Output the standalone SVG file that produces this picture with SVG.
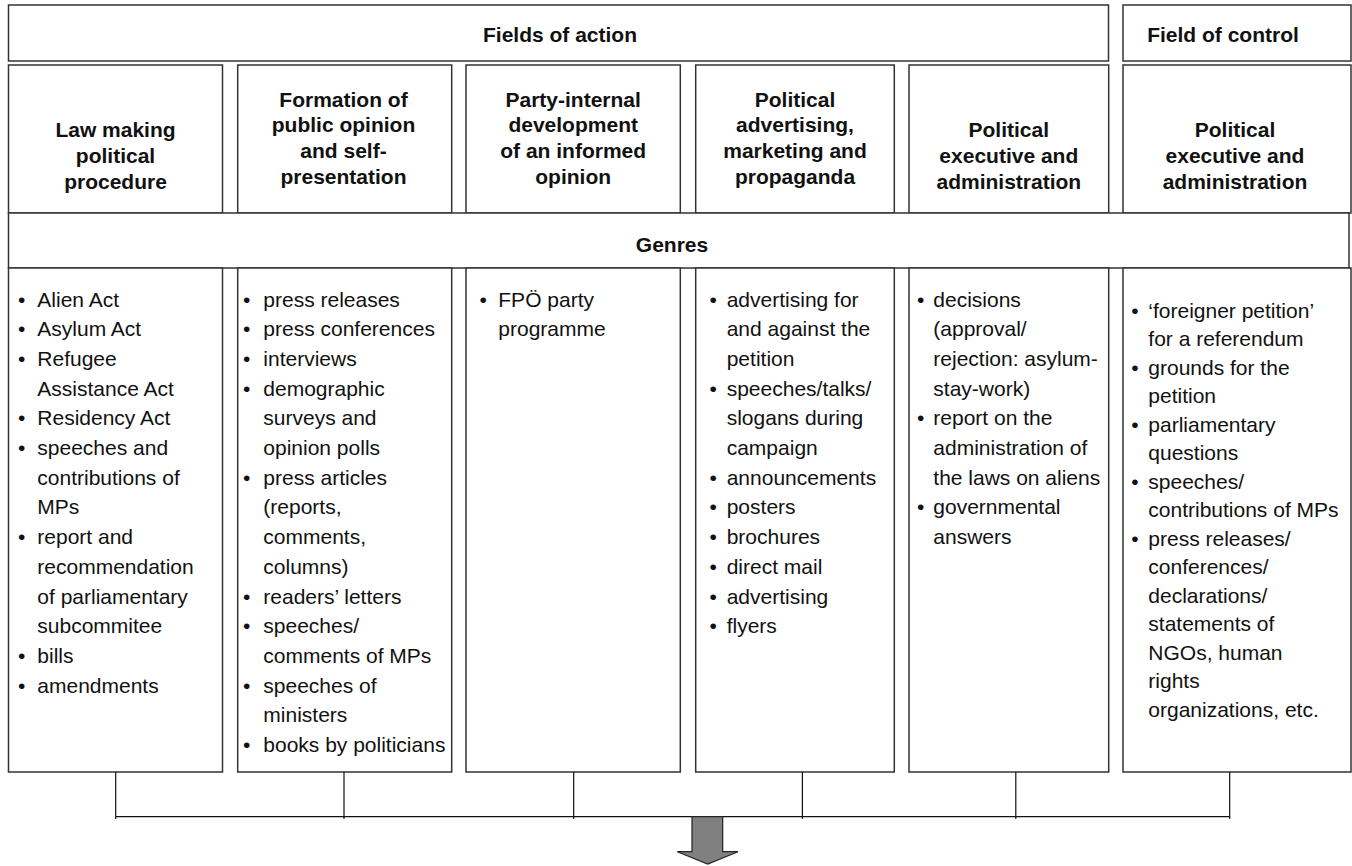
<svg xmlns="http://www.w3.org/2000/svg" width="1352" height="866" viewBox="0 0 1352 866">
  <style>
    .box { fill: #ffffff; stroke: #333333; stroke-width: 1.5; }
    .head { font-family: "Liberation Sans", Arial, sans-serif; font-size: 21px; font-weight: bold; fill: #111111; text-anchor: middle; }
    .item { font-family: "Liberation Sans", Arial, sans-serif; font-size: 21px; fill: #111111; }
    .conn { stroke: #111111; stroke-width: 1.2; fill: none; }
    .arrow { fill: #808080; stroke: #222222; stroke-width: 1.2; }
  </style>
  <rect width="1352" height="866" fill="#ffffff"/>

  <!-- top band -->
  <g id="fields-of-action">
    <rect class="box" x="8.5" y="5" width="1100" height="56"/>
    <text class="head" x="560" y="42.3">Fields of action</text>
  </g>
  <g id="field-of-control">
    <rect class="box" x="1123" y="5" width="228" height="56"/>
    <text class="head" x="1223" y="42.3">Field of control</text>
  </g>

  <!-- column headers -->
  <g id="h-law-making">
    <rect class="box" x="8.5" y="65" width="214" height="148"/>
    <text class="head" x="115.5" y="137.3">Law making</text>
    <text class="head" x="115.5" y="163.1">political</text>
    <text class="head" x="115.5" y="188.9">procedure</text>
  </g>
  <g id="h-public-opinion">
    <rect class="box" x="237.7" y="65" width="214" height="148"/>
    <text class="head" x="343.5" y="106.5">Formation of</text>
    <text class="head" x="343.5" y="132.3">public opinion</text>
    <text class="head" x="343.5" y="158.1">and self-</text>
    <text class="head" x="343.5" y="183.9">presentation</text>
  </g>
  <g id="h-party-internal">
    <rect class="box" x="466" y="65" width="214.3" height="148"/>
    <text class="head" x="573.2" y="106.5">Party-internal</text>
    <text class="head" x="573.2" y="132.3">development</text>
    <text class="head" x="573.2" y="158.1">of an informed</text>
    <text class="head" x="573.2" y="183.9">opinion</text>
  </g>
  <g id="h-advertising">
    <rect class="box" x="695.7" y="65" width="198.6" height="148"/>
    <text class="head" x="795" y="106.5">Political</text>
    <text class="head" x="795" y="132.3">advertising,</text>
    <text class="head" x="795" y="158.1">marketing and</text>
    <text class="head" x="795" y="183.9">propaganda</text>
  </g>
  <g id="h-executive">
    <rect class="box" x="909" y="65" width="199.7" height="148"/>
    <text class="head" x="1008.8" y="137.3">Political</text>
    <text class="head" x="1008.8" y="163.1">executive and</text>
    <text class="head" x="1008.8" y="188.9">administration</text>
  </g>
  <g id="h-control-executive">
    <rect class="box" x="1123" y="65" width="228" height="148"/>
    <text class="head" x="1235" y="137.3">Political</text>
    <text class="head" x="1235" y="163.1">executive and</text>
    <text class="head" x="1235" y="188.9">administration</text>
  </g>

  <!-- genres band -->
  <g id="genres">
    <rect class="box" x="8.5" y="213" width="1340.5" height="55"/>
    <text class="head" x="672" y="252.3">Genres</text>
  </g>

  <!-- genre lists -->
  <g id="g-law-making">
    <rect class="box" x="8.5" y="268" width="214" height="504"/>
    <g class="item">
      <text x="18" y="306.5">•</text><text x="37.3" y="306.5">Alien Act</text>
      <text x="18" y="336.2">•</text><text x="37.3" y="336.2">Asylum Act</text>
      <text x="18" y="365.9">•</text><text x="37.3" y="365.9">Refugee</text>
      <text x="37.3" y="395.6">Assistance Act</text>
      <text x="18" y="425.3">•</text><text x="37.3" y="425.3">Residency Act</text>
      <text x="18" y="455">•</text><text x="37.3" y="455">speeches and</text>
      <text x="37.3" y="484.7">contributions of</text>
      <text x="37.3" y="514.4">MPs</text>
      <text x="18" y="544.1">•</text><text x="37.3" y="544.1">report and</text>
      <text x="37.3" y="573.8">recommendation</text>
      <text x="37.3" y="603.5">of parliamentary</text>
      <text x="37.3" y="633.2">subcommitee</text>
      <text x="18" y="662.9">•</text><text x="37.3" y="662.9">bills</text>
      <text x="18" y="692.6">•</text><text x="37.3" y="692.6">amendments</text>
    </g>
  </g>
  <g id="g-public-opinion">
    <rect class="box" x="237.7" y="268" width="214" height="504"/>
    <g class="item">
      <text x="243" y="306.5">•</text><text x="263.3" y="306.5">press releases</text>
      <text x="243" y="336.2">•</text><text x="263.3" y="336.2">press conferences</text>
      <text x="243" y="365.9">•</text><text x="263.3" y="365.9">interviews</text>
      <text x="243" y="395.6">•</text><text x="263.3" y="395.6">demographic</text>
      <text x="263.3" y="425.3">surveys and</text>
      <text x="263.3" y="455">opinion polls</text>
      <text x="243" y="484.7">•</text><text x="263.3" y="484.7">press articles</text>
      <text x="263.3" y="514.4">(reports,</text>
      <text x="263.3" y="544.1">comments,</text>
      <text x="263.3" y="573.8">columns)</text>
      <text x="243" y="603.5">•</text><text x="263.3" y="603.5">readers’ letters</text>
      <text x="243" y="633.2">•</text><text x="263.3" y="633.2">speeches/</text>
      <text x="263.3" y="662.9">comments of MPs</text>
      <text x="243" y="692.6">•</text><text x="263.3" y="692.6">speeches of</text>
      <text x="263.3" y="722.3">ministers</text>
      <text x="243" y="752">•</text><text x="263.3" y="752">books by politicians</text>
    </g>
  </g>
  <g id="g-party-internal">
    <rect class="box" x="466" y="268" width="214.3" height="504"/>
    <g class="item">
      <text x="479.6" y="306.5">•</text><text x="498.3" y="306.5">FPÖ party</text>
      <text x="498.3" y="336.2">programme</text>
    </g>
  </g>
  <g id="g-advertising">
    <rect class="box" x="695.7" y="268" width="198.6" height="504"/>
    <g class="item">
      <text x="709.6" y="306.5">•</text><text x="726.7" y="306.5">advertising for</text>
      <text x="726.7" y="336.2">and against the</text>
      <text x="726.7" y="365.9">petition</text>
      <text x="709.6" y="395.6">•</text><text x="726.7" y="395.6">speeches/talks/</text>
      <text x="726.7" y="425.3">slogans during</text>
      <text x="726.7" y="455">campaign</text>
      <text x="709.6" y="484.7">•</text><text x="726.7" y="484.7">announcements</text>
      <text x="709.6" y="514.4">•</text><text x="726.7" y="514.4">posters</text>
      <text x="709.6" y="544.1">•</text><text x="726.7" y="544.1">brochures</text>
      <text x="709.6" y="573.8">•</text><text x="726.7" y="573.8">direct mail</text>
      <text x="709.6" y="603.5">•</text><text x="726.7" y="603.5">advertising</text>
      <text x="709.6" y="633.2">•</text><text x="726.7" y="633.2">flyers</text>
    </g>
  </g>
  <g id="g-executive">
    <rect class="box" x="909" y="268" width="199.7" height="504"/>
    <g class="item">
      <text x="917" y="306.5">•</text><text x="933.3" y="306.5">decisions</text>
      <text x="933.3" y="336.2">(approval/</text>
      <text x="933.3" y="365.9">rejection: asylum-</text>
      <text x="933.3" y="395.6">stay-work)</text>
      <text x="917" y="425.3">•</text><text x="933.3" y="425.3">report on the</text>
      <text x="933.3" y="455">administration of</text>
      <text x="933.3" y="484.7">the laws on aliens</text>
      <text x="917" y="514.4">•</text><text x="933.3" y="514.4">governmental</text>
      <text x="933.3" y="544.1">answers</text>
    </g>
  </g>
  <g id="g-control">
    <rect class="box" x="1123" y="268" width="228" height="504"/>
    <g class="item">
      <text x="1131.3" y="317.5">•</text><text x="1148.3" y="317.5">‘foreigner petition’</text>
      <text x="1148.3" y="346">for a referendum</text>
      <text x="1131.3" y="374.5">•</text><text x="1148.3" y="374.5">grounds for the</text>
      <text x="1148.3" y="403">petition</text>
      <text x="1131.3" y="431.5">•</text><text x="1148.3" y="431.5">parliamentary</text>
      <text x="1148.3" y="460">questions</text>
      <text x="1131.3" y="488.5">•</text><text x="1148.3" y="488.5">speeches/</text>
      <text x="1148.3" y="517">contributions of MPs</text>
      <text x="1131.3" y="545.5">•</text><text x="1148.3" y="545.5">press releases/</text>
      <text x="1148.3" y="574">conferences/</text>
      <text x="1148.3" y="602.5">declarations/</text>
      <text x="1148.3" y="631">statements of</text>
      <text x="1148.3" y="659.5">NGOs, human</text>
      <text x="1148.3" y="688">rights</text>
      <text x="1148.3" y="716.5">organizations, etc.</text>
    </g>
  </g>

  <!-- bracket joining all columns, with the output arrow -->
  <g id="connectors">
    <path class="conn" d="M115.7 772 V819 M344 772 V819 M573.7 772 V819 M802.4 772 V819 M1015.8 772 V819 M1229.7 772 V819 M115.7 816.7 H1229.7"/>
    <path class="arrow" d="M692 816.7 H722.7 V851.7 H738 L707.7 864 L677.3 851.7 H692 Z"/>
  </g>
</svg>
